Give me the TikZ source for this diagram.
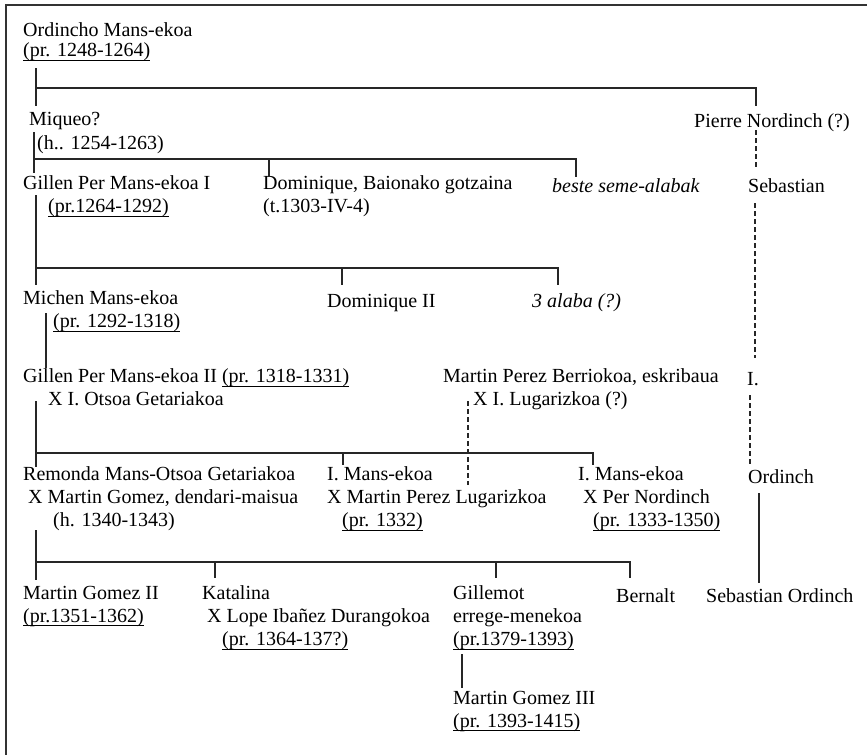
\documentclass[tikz,border=0pt]{standalone}
\usepackage{fontspec}
\setmainfont{Liberation Serif}
\newsavebox{\dtbox}
\newcommand{\dt}[1]{\sbox{\dtbox}{#1}\rlap{\rule[-4pt]{\wd\dtbox}{0.9pt}}\usebox{\dtbox}}
\begin{document}
\begin{tikzpicture}[x=1pt,y=-1pt,
    person/.style={anchor=north west,inner sep=0pt,align=left,
      font=\fontsize{20}{23}\selectfont,
      execute at begin node=\strut,execute at end node=\strut},
    tie/.style={line width=1.2pt,black!85},
    guess/.style={tie,dash pattern=on 5pt off 3pt}]
    \useasboundingbox (0,0) rectangle (867,755);
    \draw[line width=1.2pt,black!80] (867,5) -- (6,5) -- (6,755);
    \node[person] (ordincho) at (23,22.9) {Ordincho Mans-ekoa\\[-3pt]\dt{(pr. 1248-1264)}};
    \node[person] (miqueo) at (29,111.9) {Miqueo?\\[1pt]\hspace*{8pt}(h.. 1254-1263)};
    \node[person] (pierre) at (694,110.9) {Pierre Nordinch (?)};
    \node[person] (gillenI) at (23,175.9) {Gillen Per Mans-ekoa I\\\hspace*{25pt}\dt{(pr.1264-1292)}};
    \node[person] (dominique) at (263,175.9) {Dominique, Baionako gotzaina\\(t.1303-IV-4)};
    \node[person] (beste) at (552,175.9) {\itshape beste seme-alabak};
    \node[person] (sebastian) at (748,175.9) {Sebastian};
    \node[person] (michen) at (23,290.9) {Michen Mans-ekoa\\\hspace*{30pt}\dt{(pr. 1292-1318)}};
    \node[person] (dominiqueII) at (327,290.9) {Dominique II};
    \node[person] (alaba) at (532,290.9) {\itshape 3 alaba (?)};
    \node[person] (gillenII) at (23,368.9) {Gillen Per Mans-ekoa II \dt{(pr. 1318-1331)}\\\hspace*{25pt}X I. Otsoa Getariakoa};
    \node[person] (berriokoa) at (443,368.9) {Martin Perez Berriokoa, eskribaua\\\hspace*{30pt}X I. Lugarizkoa (?)};
    \node[person] (iniz) at (747,368.9) {I.};
    \node[person] (remonda) at (23,466.9) {Remonda Mans-Otsoa Getariakoa\\\hspace*{5pt}X Martin Gomez, dendari-maisua\\\hspace*{30pt}(h. 1340-1343)};
    \node[person] (mansB) at (327,466.9) {I. Mans-ekoa\\X Martin Perez Lugarizkoa\\\hspace*{15pt}\dt{(pr. 1332)}};
    \node[person] (mansC) at (578,466.9) {I. Mans-ekoa\\\hspace*{5pt}X Per Nordinch\\\hspace*{15pt}\dt{(pr. 1333-1350)}};
    \node[person] (ordinch) at (748,466.9) {Ordinch};
    \node[person] (gomezII) at (23,585.9) {Martin Gomez II\\\dt{(pr.1351-1362)}};
    \node[person] (katalina) at (202,585.9) {Katalina\\\hspace*{5pt}X Lope Ibañez Durangokoa\\\hspace*{20pt}\dt{(pr. 1364-137?)}};
    \node[person] (gillemot) at (453,585.9) {Gillemot\\errege-menekoa\\\dt{(pr.1379-1393)}};
    \node[person] (bernalt) at (616,585.9) {Bernalt};
    \node[person] (sebOrdinch) at (706,585.9) {Sebastian Ordinch};
    \node[person] (gomezIII) at (453,690.9) {Martin Gomez III\\\dt{(pr. 1393-1415)}};
    \coordinate (bar1) at (36,88);
    \coordinate (bar2) at (34,159);
    \coordinate (bar3) at (36,268);
    \coordinate (bar4) at (36,453);
    \coordinate (bar5) at (36,562);
    \coordinate (lugEnd) at (468,485);
    \draw[tie] ([xshift=13pt,yshift=-4pt]ordincho.south west) -- ([xshift=7pt,yshift=6pt]miqueo.north west);
    \draw[tie] (bar1) -| ([xshift=62pt,yshift=5pt]pierre.north west);
    \draw[guess] ([xshift=62pt,yshift=4pt]pierre.south west) -- ([xshift=8pt,yshift=9pt]sebastian.north west);
    \draw[tie] ([xshift=5pt,yshift=24pt]miqueo.south west) -- ([xshift=11pt,yshift=3pt]gillenI.north west);
    \draw[tie] (bar2) -| ([xshift=24pt,yshift=-1pt]beste.north west);
    \draw[tie] ([xshift=6pt,yshift=-1pt]dominique.north west) |- (bar2);
    \draw[tie] ([xshift=13pt,yshift=25pt]gillenI.south west) -- ([xshift=13pt,yshift=6pt]michen.north west);
    \draw[tie] (bar3) -| ([xshift=26pt,yshift=6pt]alaba.north west);
    \draw[tie] ([xshift=15pt,yshift=6pt]dominiqueII.north west) |- (bar3);
    \draw[tie] ([xshift=23pt,yshift=22pt]michen.south west) -- ([xshift=23pt,yshift=1pt]gillenII.north west);
    \draw[tie] ([xshift=13pt,yshift=12pt]gillenII.south west) -- ([xshift=13pt]remonda.north west);
    \draw[tie] (bar4) -| ([xshift=15pt,yshift=2pt]mansC.north west);
    \draw[tie] ([xshift=16pt,yshift=2pt]mansB.north west) |- (bar4);
    \draw[guess] ([xshift=25pt,yshift=12pt]berriokoa.south west) -- (lugEnd);
    \draw[guess] ([xshift=7pt,yshift=-4pt]sebastian.south west) -- ([xshift=8pt,yshift=11pt]iniz.north west);
    \draw[guess] ([xshift=3pt,yshift=-3pt]iniz.south west) -- ([xshift=2pt]ordinch.north west);
    \draw[tie] ([xshift=11pt,yshift=-3pt]ordinch.south west) -- ([xshift=53pt,yshift=3pt]sebOrdinch.north west);
    \draw[tie] ([xshift=13pt,yshift=4pt]remonda.south west) -- ([xshift=13pt,yshift=6pt]gomezII.north west);
    \draw[tie] (bar5) -| ([xshift=14pt,yshift=8pt]bernalt.north west);
    \draw[tie] ([xshift=13pt,yshift=8pt]katalina.north west) |- (bar5);
    \draw[tie] ([xshift=43pt,yshift=8pt]gillemot.north west) |- (bar5);
    \draw[tie] ([xshift=9pt,yshift=-1pt]gillemot.south west) -- ([xshift=9pt,yshift=3pt]gomezIII.north west);
\end{tikzpicture}
\end{document}
